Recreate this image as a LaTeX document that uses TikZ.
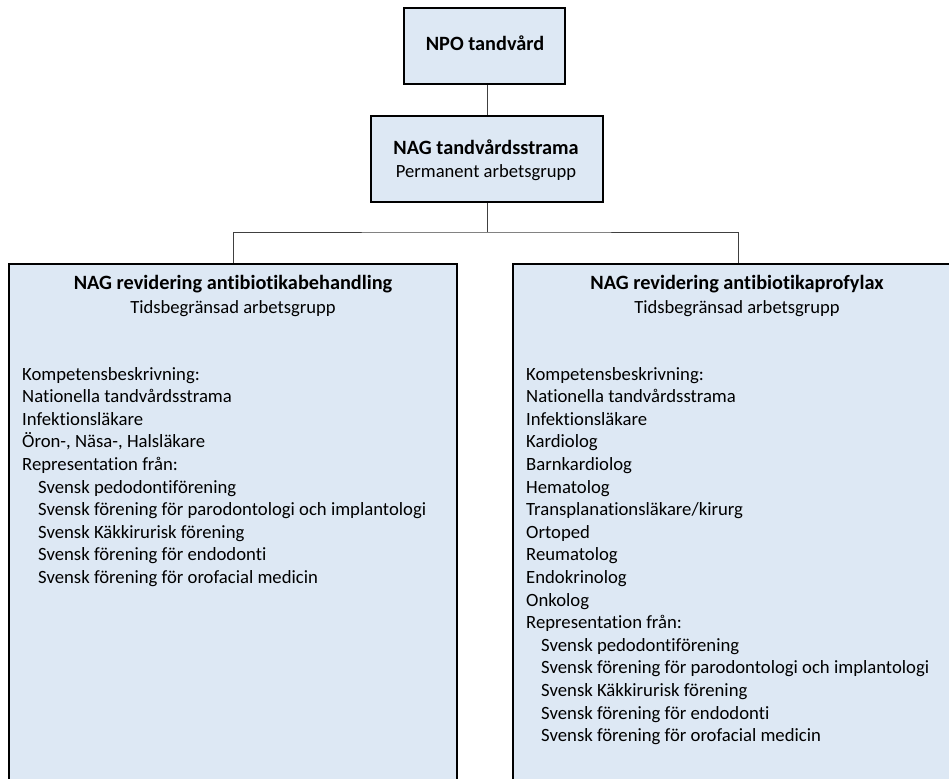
\documentclass[tikz,border=0pt]{standalone}
\usepackage{fontspec}
\setmainfont{Carlito}[Ligatures={NoCommon}]
\definecolor{boxfill}{HTML}{DDE8F4}
\definecolor{conn}{HTML}{404040}
\begin{document}
\begin{tikzpicture}[x=1pt,y=-1pt,
  box/.style={draw=black,line width=1.8pt,fill=boxfill,inner sep=0pt,anchor=north},
  conline/.style={draw=conn,line width=1pt},
  txt/.style={inner sep=0pt,anchor=base,font=\fontsize{18.6}{22.6}\selectfont},
  ttl/.style={inner sep=0pt,anchor=base,font=\fontsize{20.3}{24}\selectfont\bfseries},
  item/.style={inner sep=0pt,anchor=base west,font=\fontsize{18.7}{22.6}\selectfont}]
\clip (0,0) rectangle (949,778);
\fill[white] (0,0) rectangle (949,778);
% boxes
\node[box,minimum width=161pt,minimum height=76pt] (N) at (484.5,7) {};
\node[box,minimum width=232pt,minimum height=86pt] (S) at (487,115) {};
\node[box,minimum width=448pt,minimum height=540pt] (L) at (233,263) {};
\node[box,minimum width=450pt,minimum height=540pt] (R) at (738,263) {};
% connectors
\coordinate (j) at (487,232);
\draw[conline] (S.north |- N.south) -- (S.north);
\draw[conline] (S.south) -- (j);
\draw[conline] (L.north) |- (j) -| (R.north);
% texts
\node[ttl] (Nt) at (485,51) {NPO tandvård};
\node[ttl] (St) at (486,154) {NAG tandvårdsstrama};
\node[txt] (Ss) at (486,178) {Permanent arbetsgrupp};
\node[ttl] (Lt) at (233,289) {NAG revidering antibiotikabehandling};
\node[txt] (Ls) at (233,313) {Tidsbegränsad arbetsgrupp};
\node[ttl] (Rt) at (737,289) {NAG revidering antibiotikaprofylax};
\node[txt] (Rs) at (737,313) {Tidsbegränsad arbetsgrupp};
% left list
\foreach [count=\i from 0] \t in {Kompetensbeskrivning:, Nationella tandvårdsstrama, Infektionsläkare, {Öron-, Näsa-, Halsläkare}, Representation från:}
  \node[item] (la\i) at (22,380+22.6*\i) {\t};
\foreach [count=\i from 5] \t in {Svensk pedodontiförening, Svensk förening för parodontologi och implantologi, Svensk Käkkirurisk förening, Svensk förening för endodonti, Svensk förening för orofacial medicin}
  \node[item] (lb\i) at (38,380+22.6*\i) {\t};
% right list
\foreach [count=\i from 0] \t in {Kompetensbeskrivning:, Nationella tandvårdsstrama, Infektionsläkare, Kardiolog, Barnkardiolog, Hematolog, Transplanationsläkare/kirurg, Ortoped, Reumatolog, Endokrinolog, Onkolog, Representation från:}
  \node[item] (ra\i) at (526,380+22.6*\i) {\t};
\foreach [count=\i from 12] \t in {Svensk pedodontiförening, Svensk förening för parodontologi och implantologi, Svensk Käkkirurisk förening, Svensk förening för endodonti, Svensk förening för orofacial medicin}
  \node[item] (rb\i) at (541,380+22.6*\i) {\t};
\end{tikzpicture}
\end{document}
